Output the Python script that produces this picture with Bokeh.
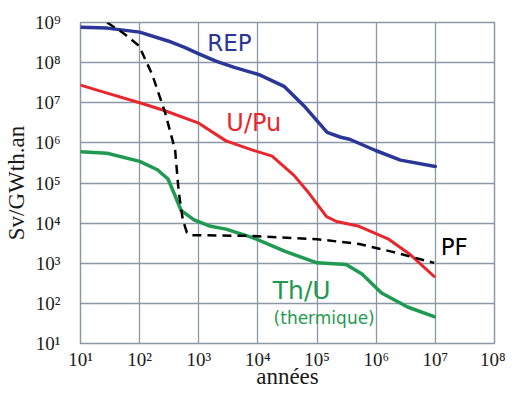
import numpy as np
from bokeh.plotting import figure
from bokeh.models import FixedTicker, CustomJSTickFormatter, Label, Range1d
from bokeh.embed import file_html
from bokeh.resources import INLINE

# ---- data: log10(years) and log10(Sv/GWth.an) ----
rep_logx = [1.0, 1.45, 2.0, 2.48, 2.76, 3.0, 3.30, 3.6, 4.02, 4.45, 4.78, 5.17, 5.4, 5.55, 5.99, 6.41, 7.0]
rep_logy = [8.88, 8.86, 8.76, 8.54, 8.38, 8.22, 8.03, 7.88, 7.70, 7.40, 6.92, 6.26, 6.14, 6.09, 5.81, 5.57, 5.41]

upu_logx = [1.0, 1.45, 2.0, 2.43, 3.0, 3.46, 3.91, 4.24, 4.61, 4.84, 5.16, 5.33, 5.71, 6.20, 6.58, 6.98]
upu_logy = [7.44, 7.24, 7.00, 6.80, 6.49, 6.05, 5.82, 5.67, 5.19, 4.79, 4.16, 4.04, 3.92, 3.61, 3.21, 2.67]

thu_logx = [1.0, 1.45, 2.0, 2.3, 2.48, 2.58, 2.70, 2.92, 3.20, 3.46, 3.91, 4.45, 5.0, 5.49, 5.76, 6.09, 6.53, 6.98]
thu_logy = [5.78, 5.74, 5.54, 5.33, 5.10, 4.75, 4.32, 4.08, 3.92, 3.85, 3.64, 3.30, 3.01, 2.97, 2.73, 2.26, 1.91, 1.67]

pf_logx = [1.45, 1.72, 1.99, 2.21, 2.43, 2.60, 2.66, 2.73, 2.80, 2.88, 3.0, 3.91, 5.0, 5.71, 6.26, 6.98]
pf_logy = [9.0, 8.74, 8.42, 7.71, 6.76, 5.82, 4.79, 4.08, 3.76, 3.70, 3.70, 3.68, 3.60, 3.48, 3.29, 3.01]

x_tick_exps = [1, 2, 3, 4, 5, 6, 7, 8]
x_tick_labels = ["10¹", "10²", "10³", "10⁴", "10⁵", "10⁶", "10⁷", "10⁸"]
y_tick_exps = [1, 2, 3, 4, 5, 6, 7, 8, 9]
y_tick_labels = ["10¹", "10²", "10³", "10⁴", "10⁵", "10⁶", "10⁷", "10⁸", "10⁹"]

BLUE = "#2a3698"
RED = "#e8262c"
GREEN = "#1f9a50"
GRID = "#8c97a6"
INK = "#1a1a1a"

p = figure(width=505, height=391, x_axis_type="log", y_axis_type="log",
           x_range=Range1d(10, 1e8), y_range=Range1d(10, 1e9),
           output_backend="svg", toolbar_location=None,
           min_border_left=80, min_border_right=11,
           min_border_top=22, min_border_bottom=40)

p.background_fill_color = "white"
p.border_fill_color = "white"
p.outline_line_color = GRID
p.outline_line_width = 1.5

xt = FixedTicker(ticks=[10.0 ** e for e in x_tick_exps], minor_ticks=[])
yt = FixedTicker(ticks=[10.0 ** e for e in y_tick_exps], minor_ticks=[])
p.xaxis.ticker = xt
p.yaxis.ticker = yt
p.xaxis.formatter = CustomJSTickFormatter(args=dict(labels=x_tick_labels),
    code="const e = Math.round(Math.log10(tick)); return labels[e - 1];")
p.yaxis.formatter = CustomJSTickFormatter(args=dict(labels=y_tick_labels),
    code="const e = Math.round(Math.log10(tick)); return labels[e - 1];")

for ax in (p.xaxis, p.yaxis):
    ax.axis_line_color = None
    ax.major_tick_line_color = None
    ax.minor_tick_line_color = None
    ax.major_label_text_font = "Liberation Serif"
    ax.major_label_text_font_size = "19px"
    ax.major_label_text_color = INK
    ax.axis_label_text_font = "Liberation Serif"
    ax.axis_label_text_font_style = "normal"
    ax.axis_label_text_color = INK
p.xaxis.major_label_standoff = -1
p.yaxis.major_label_standoff = 14

p.xaxis.axis_label = "années"
p.xaxis.axis_label_text_font_size = "23px"
p.xaxis.axis_label_standoff = -9
p.yaxis.axis_label = "Sv/GWth.an"
p.yaxis.axis_label_text_font_size = "23px"
p.yaxis.axis_label_standoff = 3

p.xgrid.ticker = xt
p.ygrid.ticker = yt
p.grid.grid_line_color = GRID
p.grid.grid_line_width = 1.3
p.grid.grid_line_alpha = 1.0

def pw(a):
    return 10.0 ** np.array(a)

p.line(pw(rep_logx), pw(rep_logy), line_color=BLUE, line_width=3.5, line_join="round", line_cap="round")
p.line(pw(upu_logx), pw(upu_logy), line_color=RED, line_width=3, line_join="round", line_cap="round")
p.line(pw(thu_logx), pw(thu_logy), line_color=GREEN, line_width=3.5, line_join="round", line_cap="round")
p.line(pw(pf_logx), pw(pf_logy), line_color="black", line_width=2.5, line_dash="9 6")

SANS = "DejaVu Sans"
def tag(lx, ly, text, color, size):
    p.add_layout(Label(x=10 ** lx, y=10 ** ly, text=text, text_color=color,
                       text_font=SANS, text_font_size=size,
                       text_align="center", text_baseline="middle"))

tag(3.52, 8.48, "REP", BLUE, "23px")
tag(3.93, 6.50, "U/Pu", RED, "24px")
tag(7.32, 3.41, "PF", "black", "23px")
tag(4.74, 2.32, "Th/U", GREEN, "25px")
tag(5.12, 1.64, "(thermique)", GREEN, "17px")

open("out.html", "w").write(file_html(p, INLINE))
